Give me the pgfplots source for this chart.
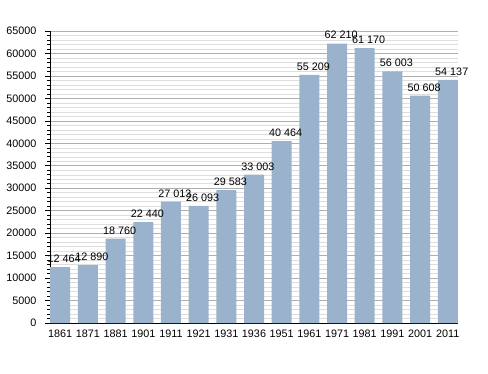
\documentclass[border=0pt]{standalone}
\usepackage{pgfplots}
\pgfplotsset{compat=1.18}
\usepackage{pgfplotstable}
\usepackage{fontspec}
\setmainfont{Liberation Sans}
\definecolor{barblue}{RGB}{155,178,205}
\definecolor{majgrid}{RGB}{175,175,175}
\definecolor{mingrid}{RGB}{222,222,222}
\pgfplotstableread{
x y lab
0 12464 {12 464}
1 12890 {12 890}
2 18760 {18 760}
3 22440 {22 440}
4 27013 {27 013}
5 26093 {26 093}
6 29583 {29 583}
7 33003 {33 003}
8 40464 {40 464}
9 55209 {55 209}
10 62210 {62 210}
11 61170 {61 170}
12 56003 {56 003}
13 50608 {50 608}
14 54137 {54 137}
}\datatable
\begin{document}
\begin{tikzpicture}
\useasboundingbox (0,0) rectangle (488pt,373pt);
\begin{axis}[
  at={(50pt,50pt)}, anchor=south west,
  scale only axis, width=408pt, height=292pt,
  xmin=-0.37, xmax=14.37, ymin=0, ymax=65000,
  axis x line=bottom, axis y line=left,
  axis line style={-, black, line width=0.8pt},
  xtick=data,
  xticklabels={1861,1871,1881,1901,1911,1921,1931,1936,1951,1961,1971,1981,1991,2001,2011},
  x tick style={draw=none},
  ytick={0,5000,...,65000},
  minor y tick num=4,
  tick align=outside,
  major tick length=5pt, minor tick length=3pt,
  y tick style={black, line width=0.6pt},
  ymajorgrids, yminorgrids,
  major grid style={majgrid, line width=0.6pt},
  minor grid style={mingrid, line width=0.5pt},
  scaled y ticks=false,
  /pgf/number format/assume math mode=true,
  /pgf/number format/set thousands separator={},
  tick label style={font=\fontsize{10.8}{12}\selectfont},
  yticklabel style={xshift=-5pt},
  xticklabel style={yshift=2pt},
]
\addplot[ybar, bar width=20pt, fill=barblue, draw=none,
  nodes near coords, point meta=explicit symbolic,
  every node near coord/.style={font=\fontsize{10.8}{12}\selectfont, black, xshift=4pt, yshift=1pt}]
  table[x=x, y=y, meta=lab] {\datatable};
\end{axis}
\end{tikzpicture}
\end{document}
